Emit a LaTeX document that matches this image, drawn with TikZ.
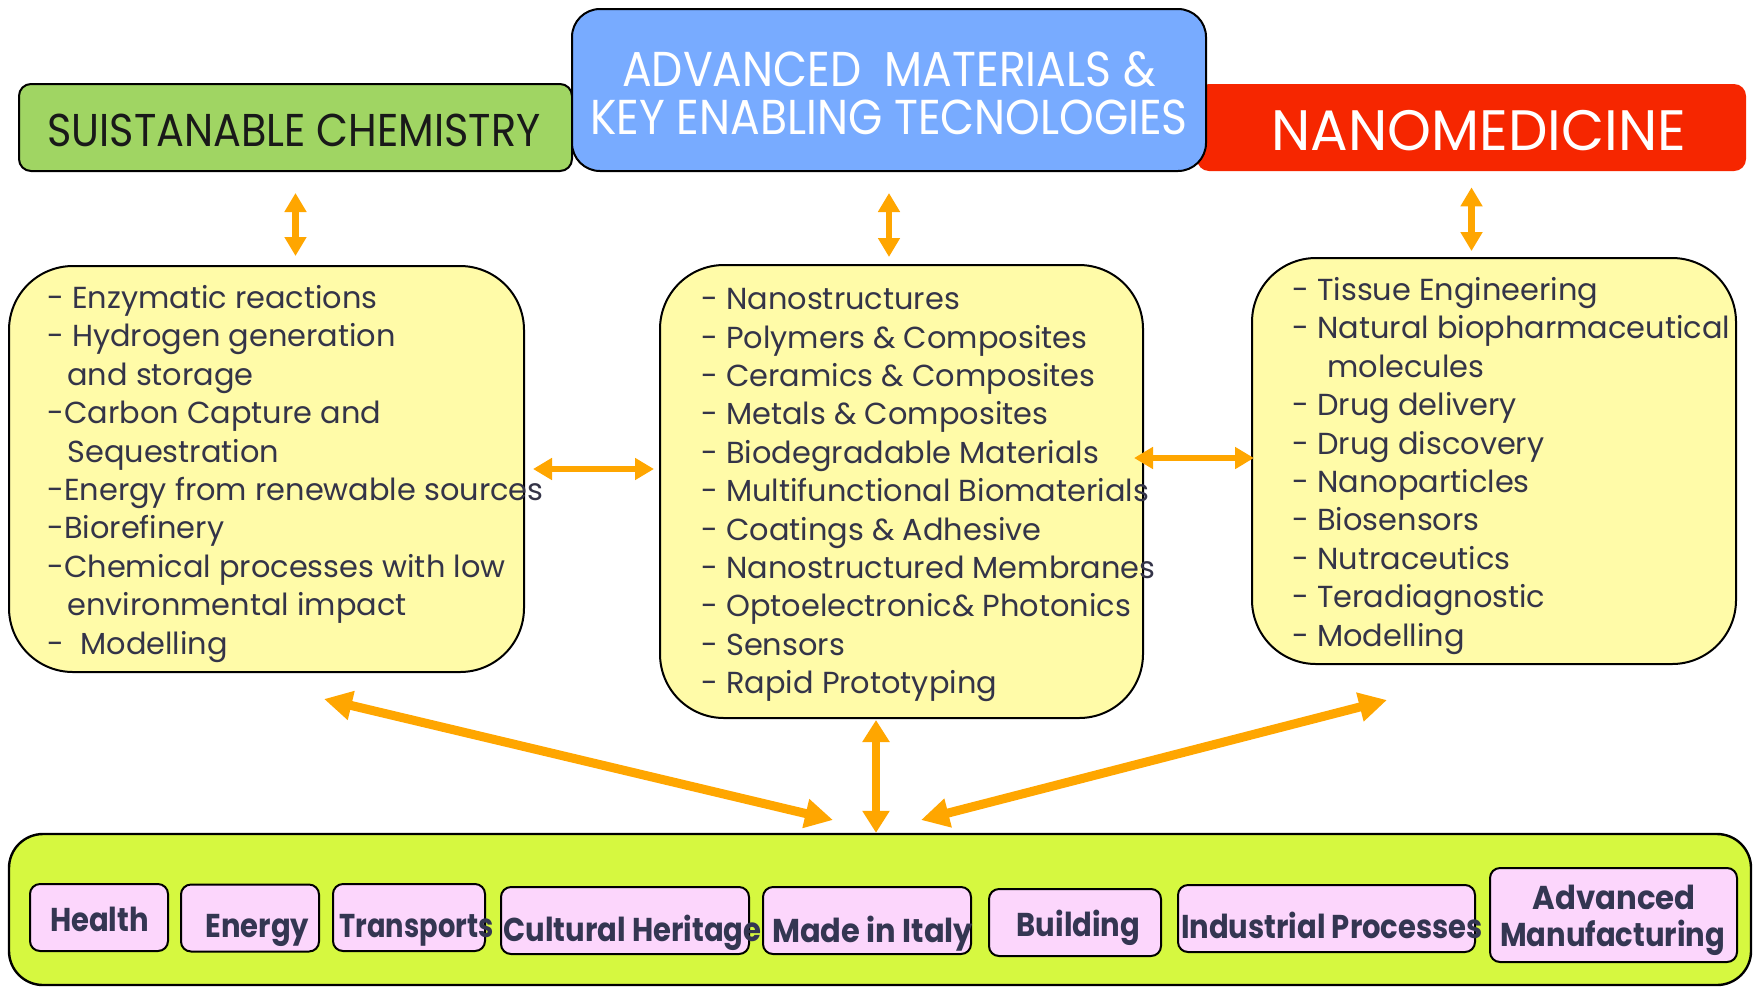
\documentclass[tikz,border=0pt]{standalone}
\usepackage{fontspec}
\setmainfont{Poppins}
\newfontfamily\hdfontA[FakeStretch=0.9]{Poppins}
\newfontfamily\hdfontB[FakeStretch=0.98]{Poppins}
\newfontfamily\itfont{Poppins}
\newfontfamily\lbfont[FakeStretch=0.88]{Poppins}
\usetikzlibrary{arrows.meta}
\definecolor{cgreen}{RGB}{160,213,99}
\definecolor{cblue}{RGB}{120,171,255}
\definecolor{cred}{RGB}{246,38,0}
\definecolor{cyellow}{RGB}{255,251,168}
\definecolor{clime}{RGB}{214,248,64}
\definecolor{cpink}{RGB}{252,214,252}
\definecolor{corange}{RGB}{255,166,0}
\definecolor{ctext}{RGB}{52,52,72}
\definecolor{clabel}{RGB}{52,54,82}
\tikzset{
  headbox/.style={draw=black, line width=1pt, rounded corners=6pt, inner sep=0pt},
  ybox/.style={draw=black, line width=1pt, fill=cyellow, rounded corners=32pt, inner sep=0pt},
  pbox/.style={draw=black, line width=1pt, fill=cpink, rounded corners=5pt, inner sep=0pt, minimum height=33.5pt},
  items/.style={anchor=north west, inner sep=0pt, align=left, text=ctext,
     font=\itfont\fontsize{15.2}{19.2}\selectfont},
  lbl/.style={anchor=base, inner sep=0pt, text=clabel, font=\lbfont\bfseries\fontsize{16.5}{16.5}\selectfont},
  oarr/.style={draw=corange, line width=3.3pt, {Triangle[width=10.5pt,length=9.5pt]}-{Triangle[width=10.5pt,length=9.5pt]}},
  darr/.style={draw=corange, line width=4.5pt, {Triangle[width=14pt,length=14pt]}-{Triangle[width=14pt,length=14pt]}},
  varr/.style={draw=corange, line width=3.8pt, {Triangle[width=13pt,length=11pt]}-{Triangle[width=13pt,length=11pt]}}
}
\begin{document}
\begin{tikzpicture}[x=0.5pt,y=-0.5pt]
\useasboundingbox[fill=white] (0,0) rectangle (1754,986);
% header boxes
\node[headbox, fill=cgreen, minimum width=276.5pt, minimum height=43.5pt] (G) at (295.5,127.5) {};
\node[inner sep=0pt, fill=cred, rounded corners=6pt, minimum width=274.5pt, minimum height=43.5pt] (R) at (1471.5,127.5) {};
\node[headbox, fill=cblue, rounded corners=14pt, minimum width=317pt, minimum height=81pt] (B) at (889,90) {};
\node[inner sep=0pt, font=\hdfontA\fontsize{23}{23}\selectfont, text=black!90] (Gt) at (294,130) {SUISTANABLE CHEMISTRY};
\node[inner sep=0pt, align=center, font=\hdfontA\fontsize{24.5}{24}\selectfont, text=white] (Bt) at (889,93) {ADVANCED\ \ MATERIALS \&\\KEY ENABLING TECNOLOGIES};
\node[inner sep=0pt, font=\hdfontB\fontsize{28.5}{28.5}\selectfont, text=white] (Rt) at (1479,131) {NANOMEDICINE};
% yellow boxes
\node[ybox, minimum width=257.5pt, minimum height=203pt] (YL) at (266.5,469) {};
\node[ybox, minimum width=241.5pt, minimum height=226.5pt] (YM) at (901.5,491.5) {};
\node[ybox, minimum width=242pt, minimum height=203pt] (YR) at (1494,461) {};
\node[items] (YLt) at (47,285) {- Enzymatic reactions\\- Hydrogen generation\\\hspace*{10pt}and storage\\-Carbon Capture and\\\hspace*{10pt}Sequestration\\-Energy from renewable sources\\-Biorefinery\\-Chemical processes with low\\\hspace*{10pt}environmental impact\\-\ \ Modelling};
\node[items] (YMt) at (701,288) {- Nanostructures\\- Polymers \& Composites\\- Ceramics \& Composites\\- Metals \& Composites\\- Biodegradable Materials\\- Multifunctional Biomaterials\\- Coatings \& Adhesive\\- Nanostructured Membranes\\- Optoelectronic\& Photonics\\- Sensors\\- Rapid Prototyping};
\node[items] (YRt) at (1292,277) {- Tissue Engineering\\- Natural biopharmaceutical\\\hspace*{17.5pt}molecules\\- Drug delivery\\- Drug discovery\\- Nanoparticles\\- Biosensors\\- Nutraceutics\\- Teradiagnostic\\- Modelling};
% bottom box
\node[draw=black, line width=1.2pt, fill=clime, rounded corners=17pt, inner sep=0pt, minimum width=871pt, minimum height=75.5pt] (BG) at (880,909.5) {};
\node[pbox, minimum width=69pt] (p1) at (99,917.5) {};
\node[pbox, minimum width=69pt] (p2) at (250,918) {};
\node[pbox, minimum width=76pt] (p3) at (409,917.5) {};
\node[pbox, minimum width=124pt] (p4) at (625,920.5) {};
\node[pbox, minimum width=104pt] (p5) at (867,920.5) {};
\node[pbox, minimum width=86pt] (p6) at (1075,922.5) {};
\node[pbox, minimum width=148.5pt] (p7) at (1326.5,918.5) {};
\node[pbox, minimum width=123.5pt, minimum height=47pt] (p8) at (1613.5,915) {};
\node[lbl] (l1) at (99.5,931) {Health};
\node[lbl] (l2) at (257.5,937) {Energy};
\node[lbl] (l3) at (416.5,937) {\scalebox{0.94}[1]{Transports}};
\node[lbl] (l4) at (632.5,941) {Cultural Heritage};
\node[lbl] (l5) at (872.5,942) {\scalebox{1.05}[1]{Made in Italy}};
\node[lbl] (l6) at (1078.5,936) {Building};
\node[lbl] (l7) at (1332,938) {Industrial Processes};
\node[lbl] (l8a) at (1614,909) {\scalebox{1.06}[1]{Advanced}};
\node[lbl] (l8b) at (1612.5,946) {Manufacturing};
% arrows
\draw[oarr, shorten <=10.5pt, shorten >=4.5pt] (G.south) -- (G.south |- YL.north);
\draw[oarr, shorten <=10.5pt, shorten >=3.5pt] (B.south) -- (B.south |- YM.north);
\draw[oarr, shorten <=8pt, shorten >=3pt] (R.south) -- (R.south |- YR.north);
\draw[oarr, shorten <=4pt, shorten >=2.5pt] (YL.east) -- (YL.east -| YM.west);
\draw[oarr, shorten <=-5pt, shorten >=-1.5pt] ([yshift=1.5pt]YR.west -| YM.east) -- ([yshift=1.5pt]YR.west);
\coordinate (dl1) at (324,699);
\coordinate (dl2) at (833,820);
\coordinate (dr1) at (1387,700);
\coordinate (dr2) at (921,820);
\draw[darr] (dl1) -- (dl2);
\draw[darr] (dr1) -- (dr2);
\draw[varr, shorten <=0.5pt, shorten >=0pt] ([xshift=-12.75pt]YM.south) -- ([xshift=-12.75pt]YM.south |- BG.north);
\end{tikzpicture}
\end{document}
